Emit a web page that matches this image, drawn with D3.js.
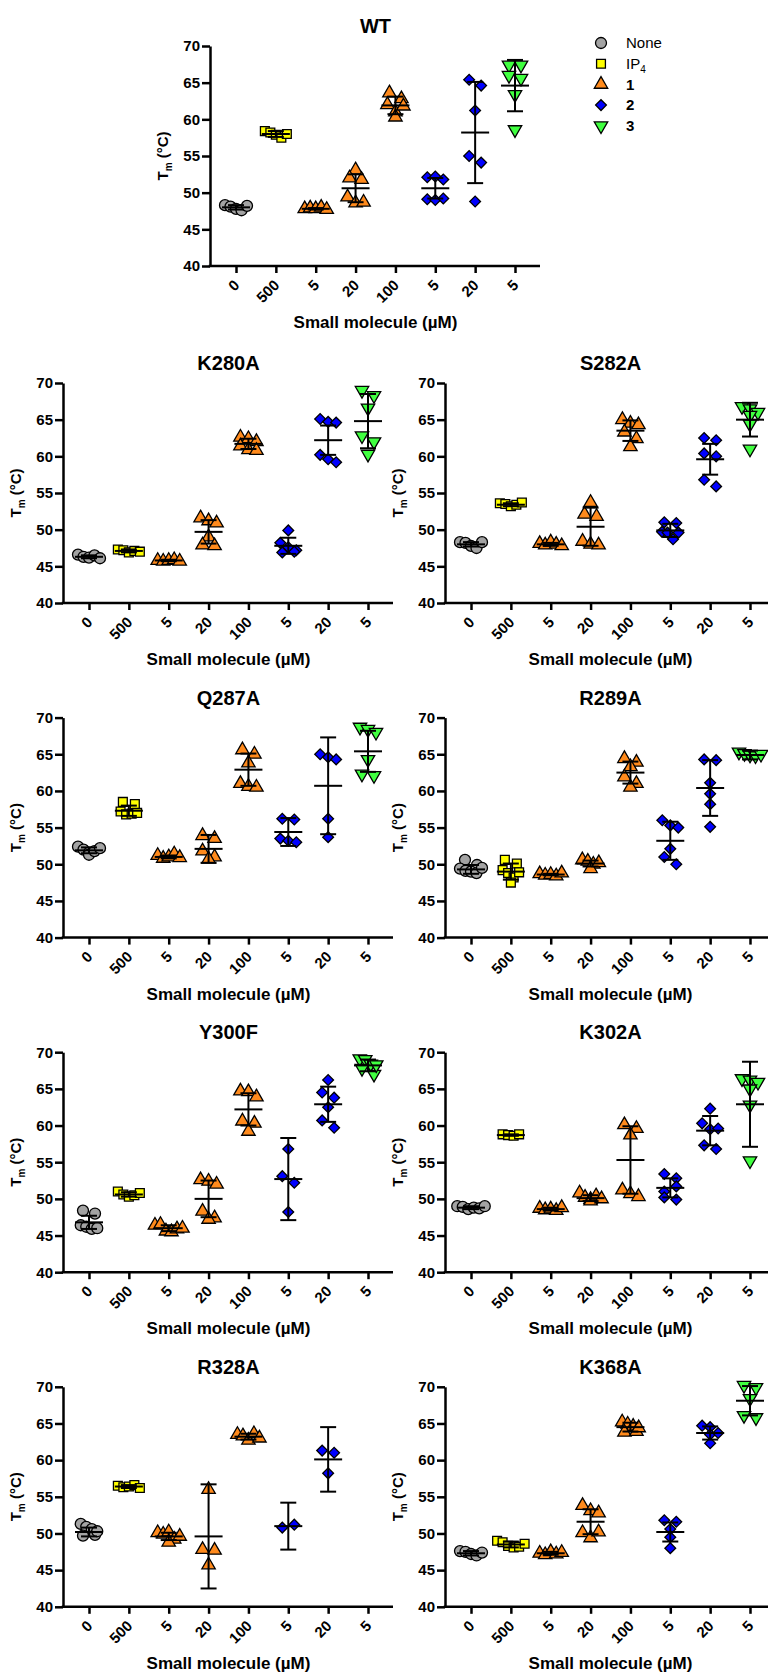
<!DOCTYPE html>
<html lang="en">
<head>
  <meta charset="UTF-8" />
  <title>Tm shift panels</title>
  <style>
    body { margin: 0; background: #fff; }
    svg { display: block; font-family: "Liberation Sans", Arial, sans-serif; }
    .axis path, .axis line { stroke: #000; stroke-width: 2.5px; }
    .axis text { font-size: 15px; font-weight: bold; fill: #000; }
    .title { font-size: 20px; font-weight: bold; }
    .xlabel { font-size: 17px; font-weight: bold; }
    .ylabel { font-size: 15px; font-weight: bold; }
  </style>
</head>
<body>
  <script src="https://d3js.org/d3.v7.min.js"></script>
  <script>
    // x categories (concentration, uM) and which compound each belongs to
    const cats = ["0", "500", "5", "20", "100", "5", "20", "5"];
    const groupSeries = [0, 1, 2, 2, 2, 3, 3, 4];
    const seriesNames = ["None", "IP4", "1", "2", "3"];
    const seriesColors = ["#a3a3a3", "#ffff00", "#ff8a1c", "#0000ff", "#40ff40"];
    const yTicks = [40, 45, 50, 55, 60, 65, 70];

    // individual Tm values per group, and [mean, SD]
    const wtPts = [[48.3, 48.1, 47.8, 47.6, 48.2], [58.4, 58.2, 57.9, 57.5, 58.0], [47.8, 47.9, 47.8, 48.0, 47.7],
      [53.1, 52.0, 51.8, 49.4, 48.6, 48.7], [63.6, 62.8, 62.0, 61.0, 60.3, 61.8], [52.1, 52.2, 51.8, 49.1, 49.0, 49.2],
      [65.4, 64.6, 61.2, 55.0, 54.1, 48.8], [67.4, 67.4, 66.0, 65.6, 63.4, 58.6]];
    const wtBars = [[48.0, 0.3], [58.0, 0.4], [47.8, 0.1], [50.6, 1.9], [61.9, 1.2], [50.6, 1.4], [58.2, 6.9], [64.6, 3.5]];

    const k280aPts = [[46.6, 46.3, 46.2, 46.5, 46.1], [47.3, 47.2, 46.9, 47.1, 47.0], [45.8, 45.7, 45.8, 45.9, 45.7],
      [51.6, 51.2, 50.9, 49.0, 47.9, 47.8], [62.6, 62.4, 62.0, 61.4, 60.9, 60.8], [49.9, 48.2, 47.6, 47.2, 46.9, 47.0],
      [65.1, 64.7, 64.6, 60.2, 59.6, 59.2], [69.0, 68.3, 66.6, 62.8, 62.0, 60.3]];
    const k280aBars = [[46.3, 0.2], [47.1, 0.2], [45.8, 0.1], [49.7, 1.6], [61.7, 0.7], [47.8, 1.1], [62.2, 2.0], [64.8, 3.7]];

    const s282aPts = [[48.3, 48.2, 47.8, 47.5, 48.3], [53.6, 53.5, 53.2, 53.4, 53.7], [48.1, 47.9, 48.3, 48.0, 47.8],
      [53.7, 52.1, 51.8, 48.4, 48.0, 47.9], [65.0, 64.5, 64.3, 63.3, 62.4, 61.3], [51.0, 50.9, 49.7, 49.6, 48.7, 49.6],
      [62.5, 62.2, 60.4, 60.0, 56.8, 55.9], [66.8, 66.5, 66.0, 65.6, 64.4, 61.0]];
    const s282aBars = [[48.0, 0.3], [53.4, 0.2], [48.0, 0.2], [50.4, 2.6], [63.5, 1.4], [49.9, 0.9], [59.6, 2.1], [65.0, 2.3]];

    const q287aPts = [[52.4, 52.0, 51.6, 51.3, 51.8, 52.2], [58.5, 58.2, 57.2, 56.8, 56.9, 57.0], [51.2, 50.8, 51.0, 51.4, 50.9],
      [53.9, 53.5, 51.8, 51.0, 50.7], [65.6, 65.0, 63.8, 61.0, 60.6, 60.5], [56.2, 56.1, 53.5, 53.2, 53.0],
      [65.0, 64.6, 64.3, 56.2, 53.7], [68.7, 68.4, 68.0, 64.3, 62.3, 62.1]];
    const q287aBars = [[51.9, 0.4], [57.3, 0.7], [51.0, 0.2], [52.1, 1.9], [62.9, 2.2], [54.4, 1.9], [60.7, 6.6], [65.4, 2.8]];

    const r289aPts = [[50.6, 49.9, 49.4, 49.1, 49.0, 48.8, 49.5], [50.6, 50.1, 49.2, 48.8, 48.2, 47.5, 48.9], [48.7, 48.5, 48.6, 48.4, 48.8],
      [50.6, 50.4, 50.0, 49.4, 50.2], [64.4, 63.9, 63.3, 61.9, 61.0, 60.5], [56.0, 55.3, 55.0, 52.1, 51.0, 50.0],
      [64.3, 64.2, 61.1, 59.6, 58.2, 55.1], [65.3, 65.1, 64.9, 64.8, 65.0]];
    const r289aBars = [[49.3, 0.6], [49.0, 1.1], [48.6, 0.1], [50.1, 0.4], [62.5, 1.5], [53.2, 2.6], [60.4, 3.8], [64.9, 0.6]];

    const y300fPts = [[48.4, 48.0, 46.4, 46.2, 45.9, 46.0], [51.0, 50.6, 50.3, 50.5, 50.8], [46.4, 46.5, 45.6, 45.5, 45.9, 46.0],
      [52.6, 52.4, 52.0, 48.3, 47.4, 47.2], [64.7, 64.6, 63.9, 60.6, 60.3, 59.2], [56.8, 53.1, 52.2, 48.2],
      [66.2, 64.5, 63.8, 62.5, 60.7, 59.7], [69.1, 69.0, 68.4, 67.8, 67.0, 68.3]];
    const y300fBars = [[46.8, 0.9], [50.6, 0.3], [46.0, 0.4], [50.0, 2.5], [62.2, 2.2], [52.7, 5.6], [62.9, 2.4], [68.2, 0.8]];

    const k302aPts = [[49.0, 48.9, 48.6, 48.8, 48.7, 49.0], [58.8, 58.7, 58.6, 58.8], [48.7, 48.5, 48.6, 48.4, 48.8],
      [50.8, 50.2, 49.9, 49.7, 50.4, 50.0], [60.1, 59.6, 58.7, 51.2, 50.7, 50.3], [53.4, 52.8, 51.0, 50.2, 49.9, 51.7],
      [62.3, 60.3, 59.5, 59.6, 57.3, 56.8], [66.4, 66.2, 65.9, 65.0, 62.8, 55.2]];
    const k302aBars = [[48.8, 0.2], [58.7, 0.1], [48.6, 0.2], [50.1, 0.4], [55.3, 4.6], [51.5, 1.3], [59.3, 2.0], [62.9, 5.8]];

    const r328aPts = [[51.3, 50.9, 50.6, 49.7, 49.8, 50.3], [56.5, 56.3, 56.4, 56.6, 56.2], [50.1, 49.9, 50.2, 49.2, 48.8, 49.6],
      [56.0, 47.8, 47.7, 45.7], [63.5, 63.3, 62.7, 63.6, 63.0], [50.8, 51.2],
      [61.3, 61.0, 58.2], []];
    const r328aBars = [[50.2, 0.6], [56.4, 0.2], [49.6, 0.5], [49.6, 7.1], [63.2, 0.4], [51.0, 3.2], [60.1, 4.4], null];

    const k368aPts = [[47.6, 47.5, 47.2, 47.0, 47.4], [49.0, 48.8, 48.3, 48.1, 48.2, 48.6], [47.3, 47.1, 47.5, 47.2, 47.4],
      [53.8, 53.1, 52.8, 50.1, 49.4, 50.2], [65.2, 64.9, 64.6, 63.8, 63.9, 64.4], [51.8, 51.6, 50.6, 49.5, 48.0],
      [64.7, 64.5, 63.5, 63.7, 62.3], [70.2, 69.9, 68.4, 66.1, 65.8]];
    const k368aBars = [[47.3, 0.3], [48.5, 0.4], [47.3, 0.2], [51.6, 1.7], [64.5, 0.6], [50.2, 1.3], [63.7, 0.9], [68.1, 2.0]];

    const gridPanels = [
      ["K280A", k280aPts, k280aBars], ["S282A", s282aPts, s282aBars],
      ["Q287A", q287aPts, q287aBars], ["R289A", r289aPts, r289aBars],
      ["Y300F", y300fPts, y300fBars], ["K302A", k302aPts, k302aBars],
      ["R328A", r328aPts, r328aBars], ["K368A", k368aPts, k368aBars]
    ];

    const svg = d3.select("body").append("svg")
      .attr("width", 768)
      .attr("height", 1675);

    const plotH = 220;

    function symbolPath(s) {
      if (s === 0) return d3.symbol(d3.symbolCircle, 95)();
      if (s === 1) return d3.symbol(d3.symbolSquare, 78)();
      if (s === 3) return d3.symbol(d3.symbolSquare, 58)();
      return d3.symbol(d3.symbolTriangle, 78)();
    }
    function symbolRotate(s) {
      if (s === 3) return 45;
      if (s === 4) return 180;
      return 0;
    }

    // Prism-like scatter: points closer than ~8px vertically share a row,
    // laid out side by side in the order they were read
    function spread(vals, cx, y) {
      const pts = vals.map((v, idx) => ({ v, idx, py: y(v) }));
      const sorted = pts.slice().sort((a, b) => a.py - b.py);
      const rows = [];
      sorted.forEach(p => {
        const last = rows[rows.length - 1];
        if (last && p.py - last[0].py < 8) last.push(p);
        else rows.push([p]);
      });
      rows.forEach(r => {
        r.sort((a, b) => a.idx - b.idx);
        const n = r.length;
        const step = n === 1 ? 0 : n === 2 ? 12 : n === 3 ? 8 : 5.5;
        r.forEach((p, k) => { p.px = cx + (k - (n - 1) / 2) * step; });
      });
      return pts;
    }

    function drawPanel(name, pts, bars, x0, top) {
      const g = svg.append("g");
      const x = d3.scalePoint().domain(d3.range(cats.length)).range([x0 + 26, x0 + 305]);
      const y = d3.scaleLinear().domain([40, 70]).range([top + plotH, top]);
      const cx = (x(0) + x(7)) / 2;

      pts.forEach((vals, i) => {
        const s = groupSeries[i];
        g.append("g").selectAll("path")
          .data(spread(vals, x(i), y))
          .join("path")
          .attr("d", symbolPath(s))
          .attr("transform", d => `translate(${d.px},${d.py}) rotate(${symbolRotate(s)})`)
          .attr("fill", seriesColors[s])
          .attr("stroke", "#000")
          .attr("stroke-width", 1.3);
      });

      // mean +/- SD
      const eb = g.append("g").attr("stroke", "#000").attr("stroke-width", 2);
      bars.forEach((b, i) => {
        if (!b) return;
        const [m, sd] = b;
        const xi = x(i);
        eb.append("line").attr("x1", xi).attr("x2", xi).attr("y1", y(m - sd)).attr("y2", y(m + sd));
        eb.append("line").attr("x1", xi - 8).attr("x2", xi + 8).attr("y1", y(m - sd)).attr("y2", y(m - sd));
        eb.append("line").attr("x1", xi - 8).attr("x2", xi + 8).attr("y1", y(m + sd)).attr("y2", y(m + sd));
        eb.append("line").attr("x1", xi - 14).attr("x2", xi + 14).attr("y1", y(m)).attr("y2", y(m));
      });

      // axes
      g.append("g")
        .attr("class", "axis")
        .attr("transform", `translate(${x0},0)`)
        .call(d3.axisLeft(y).tickValues(yTicks).tickSize(8).tickSizeOuter(0).tickPadding(2));

      const gx = g.append("g")
        .attr("class", "axis")
        .attr("transform", `translate(0,${top + plotH})`)
        .call(d3.axisBottom(x).tickSize(7).tickSizeOuter(0).tickFormat(i => cats[i]));
      gx.select(".domain").remove();
      gx.selectAll("text")
        .attr("x", null).attr("y", null).attr("dy", null)
        .attr("text-anchor", "end")
        .attr("transform", "translate(4,20) rotate(-45)");
      gx.append("line")
        .attr("x1", x0 - 1.25).attr("x2", x0 + 330)
        .attr("y1", 0).attr("y2", 0);

      // labels
      g.append("text").attr("class", "title")
        .attr("x", cx).attr("y", top - 13)
        .attr("text-anchor", "middle")
        .text(name);

      g.append("text").attr("class", "xlabel")
        .attr("x", cx).attr("y", top + plotH + 62)
        .attr("text-anchor", "middle")
        .text("Small molecule (\u00b5M)");

      const yl = g.append("text").attr("class", "ylabel")
        .attr("text-anchor", "middle")
        .attr("transform", `translate(${x0 - 42},${top + plotH / 2}) rotate(-90)`);
      yl.append("tspan").text("T");
      yl.append("tspan").attr("font-size", "10px").attr("dy", 4).text("m");
      yl.append("tspan").attr("dy", -4).text(" (\u00b0C)");
    }

    drawPanel("WT", wtPts, wtBars, 210, 46);
    gridPanels.forEach((p, i) => {
      const col = i % 2, row = Math.floor(i / 2);
      drawPanel(p[0], p[1], p[2], col ? 445 : 63, 383 + row * 334.6);
    });

    // legend
    const legend = svg.append("g").attr("transform", "translate(601,43)");
    seriesNames.forEach((n, s) => {
      const row = legend.append("g").attr("transform", `translate(0,${s * 20.7})`);
      row.append("path")
        .attr("d", symbolPath(s))
        .attr("transform", `rotate(${symbolRotate(s)})`)
        .attr("fill", seriesColors[s])
        .attr("stroke", "#000")
        .attr("stroke-width", 1.3);
      const t = row.append("text")
        .attr("x", 25).attr("dy", "0.35em")
        .attr("font-size", "15px")
        .attr("font-weight", s >= 2 ? "bold" : "normal");
      if (n === "IP4") {
        t.append("tspan").text("IP");
        t.append("tspan").attr("font-size", "10px").attr("dy", 4).text("4");
      } else {
        t.text(n);
      }
    });
  </script>
</body>
</html>
